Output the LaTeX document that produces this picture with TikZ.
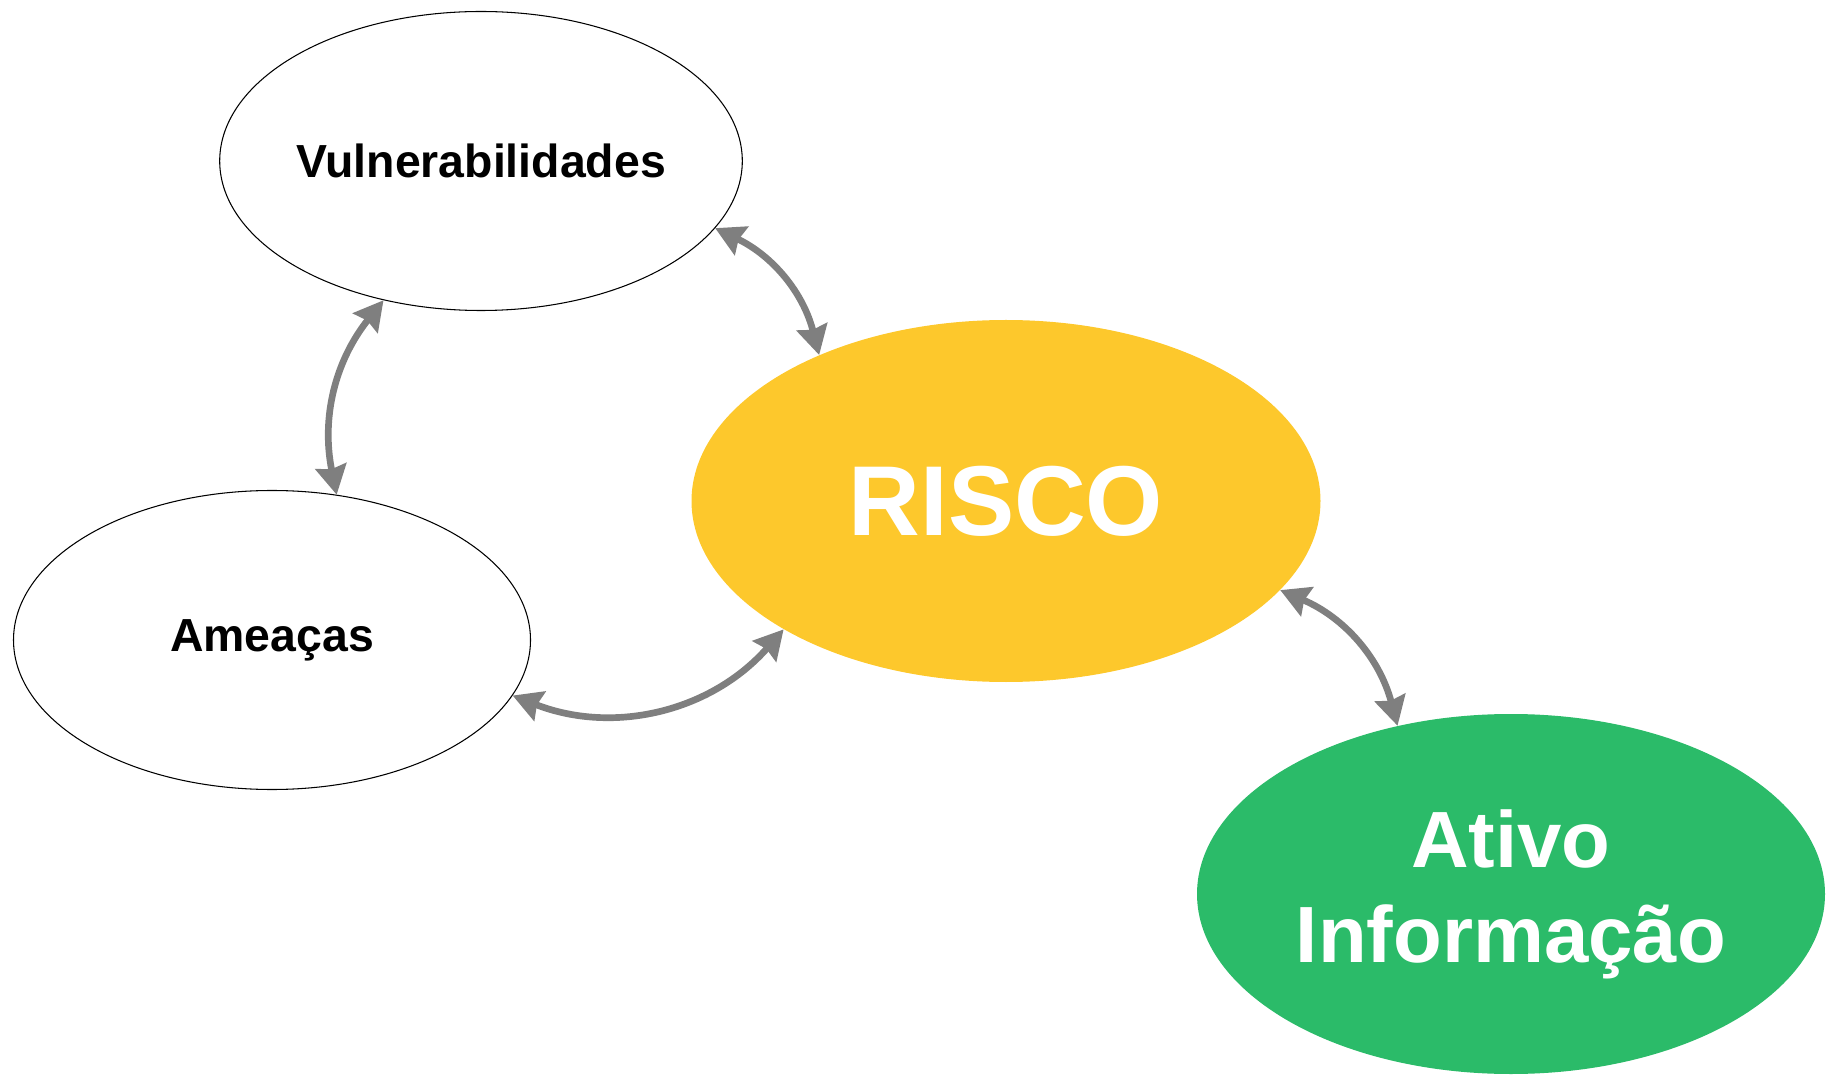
\documentclass[tikz,border=0pt]{standalone}
\usepackage{fontspec}
\setmainfont{Liberation Sans}
\usetikzlibrary{shapes.geometric,arrows.meta}
\definecolor{riscoyellow}{HTML}{FDC82C}
\definecolor{ativogreen}{HTML}{2BBB69}
\definecolor{setagray}{HTML}{7F7F7F}
\begin{document}
\begin{tikzpicture}[
        fator/.style={ellipse, draw=black, line width=0.6pt, fill=white, inner sep=0pt,
            minimum width=10.4cm, minimum height=5.98cm, font=\fontsize{26.4}{31}\selectfont\bfseries},
        seta/.style={{Stealth[length=0.58cm,width=0.62cm,inset=0.06cm]}-{Stealth[length=0.58cm,width=0.62cm,inset=0.06cm]},
            draw=setagray, line width=3.8pt}]
    \useasboundingbox (0,0) rectangle (36.54,21.58);
    \node[fator] (vuln) at (9.62,18.36) {Vulnerabilidades};
    \node[fator, minimum width=10.34cm] (ameacas) at (5.44,8.78) {Ameaças};
    \node[ellipse, fill=riscoyellow, inner sep=0pt, minimum width=12.58cm, minimum height=7.24cm,
        text=white, font=\fontsize{56.5}{64}\selectfont\bfseries] (risco) at (20.12,11.56) {RISCO};
    \node[ellipse, fill=ativogreen, inner sep=0pt, minimum width=12.56cm, minimum height=7.2cm,
        text=white, align=center, font=\fontsize{45.4}{54}\selectfont\bfseries] (ativo) at (30.22,3.70)
        {Ativo\\Informação};
    \draw[seta] (vuln.-16) to[bend left=25] (risco.142);
    \draw[seta] (vuln.-125) to[bend right=25] (ameacas.66);
    \draw[seta] (ameacas.-13) to[bend right=35] (risco.-150);
    \draw[seta] (risco.-18) to[bend left=26] (ativo.124);
\end{tikzpicture}
\end{document}
